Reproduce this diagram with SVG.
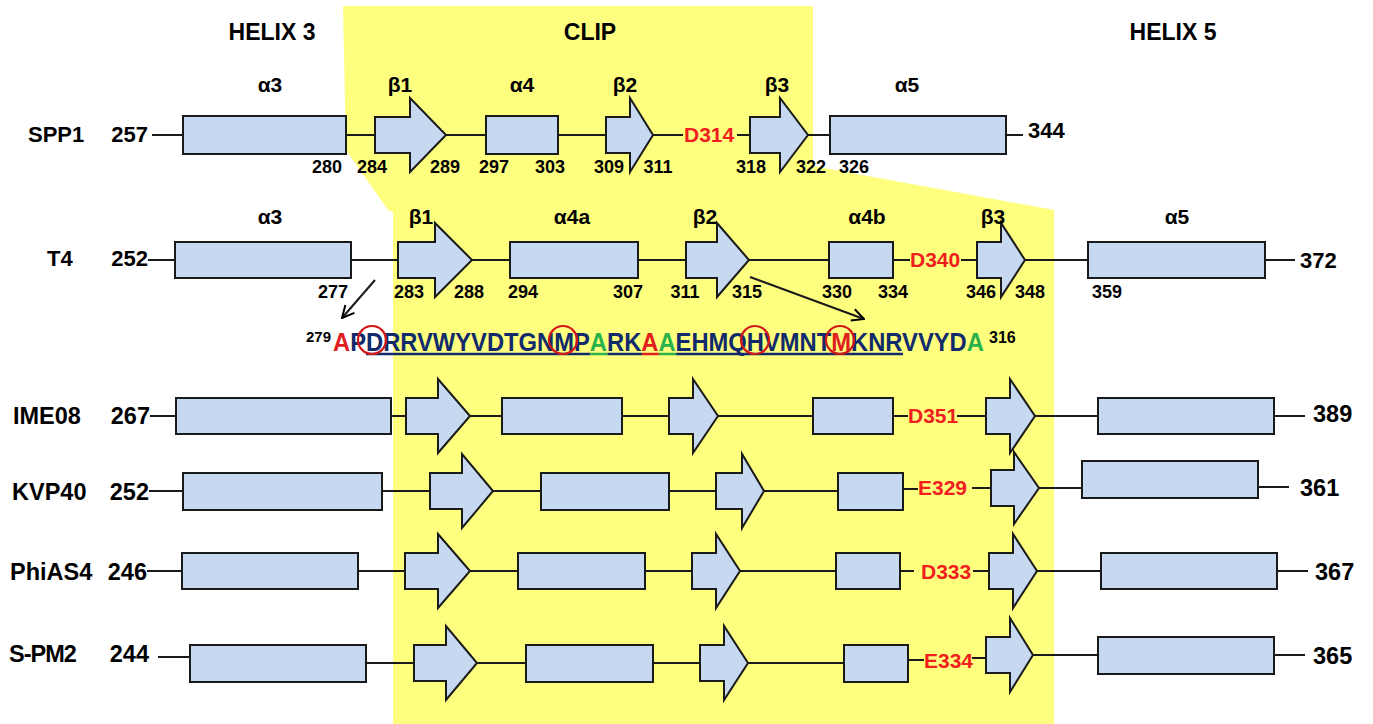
<svg xmlns="http://www.w3.org/2000/svg" width="1373" height="724" viewBox="0 0 1373 724">
<defs>
<style>
.box{fill:#c6d9f0;stroke:#1a1a1a;stroke-width:2}
.ln{stroke:#1a1a1a;stroke-width:2;fill:none}
.t{font-family:"Liberation Sans",Arial,sans-serif;font-weight:bold;fill:#000}
.ttl{font-size:23px}
.lab{font-size:22px}
.num{font-size:18px;text-anchor:middle}
.gr{font-size:21px;text-anchor:middle}
.red{fill:#f01e1e;font-size:21px}
.lab2{font-size:23.5px}
.seq{font-size:26px}
.nv{fill:#102a6c}
.rd{fill:#e0201e}
.gn{fill:#2ab24a}
.circ{fill:none;stroke:#d01818;stroke-width:2.2}
</style>
<marker id="open" viewBox="0 0 14 14" refX="13" refY="7" markerWidth="14" markerHeight="14" markerUnits="userSpaceOnUse" orient="auto">
<path d="M1,1 L13,7 L1,13" fill="none" stroke="#000" stroke-width="2"/>
</marker>
</defs>
<rect width="1373" height="724" fill="#fff"/>
<polygon id="clip-region" points="343,6 813,6 813,166 1054,210 1054,724 393,724 393,212 388,210 346,150" fill="#ffff7f"/>

<g id="titles" class="t ttl" text-anchor="middle">
<text x="272" y="40">HELIX 3</text>
<text x="590" y="40">CLIP</text>
<text x="1173" y="40">HELIX 5</text>
</g>

<g id="connectors" class="ln">
<!-- SPP1 -->
<line x1="152" y1="135" x2="183" y2="135"/><line x1="346" y1="135" x2="375" y2="135"/><line x1="446" y1="135" x2="486" y2="135"/><line x1="558" y1="135" x2="606" y2="135"/><line x1="653" y1="135" x2="683" y2="135"/><line x1="737" y1="135" x2="750" y2="135"/><line x1="808" y1="135" x2="830" y2="135"/><line x1="1006" y1="135" x2="1023" y2="135"/>
<!-- T4 -->
<line x1="148" y1="260" x2="175" y2="260"/><line x1="351" y1="260" x2="398" y2="260"/><line x1="472" y1="260" x2="510" y2="260"/><line x1="638" y1="260" x2="686" y2="260"/><line x1="749" y1="260" x2="829" y2="260"/><line x1="893" y1="260" x2="910" y2="260"/><line x1="961" y1="260" x2="977" y2="260"/><line x1="1025" y1="260" x2="1088" y2="260"/><line x1="1265" y1="260" x2="1295" y2="260"/>
<line x1="375" y1="280" x2="342" y2="318" marker-end="url(#open)"/>
<line x1="750" y1="277" x2="864" y2="319" marker-end="url(#open)"/>
<!-- IME08 -->
<line x1="150" y1="416" x2="176" y2="416"/><line x1="391" y1="416" x2="406" y2="416"/><line x1="470" y1="416" x2="502" y2="416"/><line x1="622" y1="416" x2="669" y2="416"/><line x1="718" y1="416" x2="813" y2="416"/><line x1="893" y1="416" x2="908" y2="416"/><line x1="957" y1="416" x2="986" y2="416"/><line x1="1035" y1="416" x2="1098" y2="416"/><line x1="1274" y1="416" x2="1305" y2="416"/>
<!-- KVP40 -->
<line x1="149" y1="491" x2="183" y2="491"/><line x1="382" y1="491" x2="430" y2="491"/><line x1="493" y1="491" x2="541" y2="491"/><line x1="669" y1="491" x2="716" y2="491"/><line x1="764" y1="491" x2="838" y2="491"/><line x1="903" y1="489" x2="918" y2="489"/><line x1="972" y1="488" x2="991" y2="488"/><line x1="1039" y1="488" x2="1082" y2="488"/><line x1="1258" y1="487" x2="1289" y2="487"/>
<!-- PhiAS4 -->
<line x1="147" y1="571" x2="182" y2="571"/><line x1="358" y1="571" x2="405" y2="571"/><line x1="470" y1="571" x2="518" y2="571"/><line x1="645" y1="571" x2="692" y2="571"/><line x1="740" y1="571" x2="836" y2="571"/><line x1="900" y1="571" x2="914" y2="571"/><line x1="973" y1="571" x2="989" y2="571"/><line x1="1037" y1="571" x2="1101" y2="571"/><line x1="1277" y1="571" x2="1308" y2="571"/>
<!-- S-PM2 -->
<line x1="158" y1="657" x2="190" y2="657"/><line x1="366" y1="663" x2="414" y2="663"/><line x1="477" y1="663" x2="526" y2="663"/><line x1="653" y1="663" x2="700" y2="663"/><line x1="748" y1="663" x2="844" y2="663"/><line x1="908" y1="660" x2="924" y2="660"/><line x1="972" y1="658" x2="986" y2="658"/><line x1="1033" y1="655" x2="1098" y2="655"/><line x1="1274" y1="655" x2="1305" y2="655"/>
</g>

<g id="row-SPP1">
<text class="t lab" x="28" y="142">SPP1</text>
<text class="t lab" x="148" y="142" text-anchor="end">257</text>
<g id="spp1-a3"><rect class="box" x="183" y="116" width="163" height="38"/><text class="t gr" x="270" y="92">α3</text></g>
<g id="spp1-b1"><polygon class="box" points="375,117 410,117 410,98 446,135 410,172 410,153 375,153"/><text class="t gr" x="400" y="92">β1</text></g>
<g id="spp1-a4"><rect class="box" x="486" y="116" width="72" height="38"/><text class="t gr" x="522" y="92">α4</text></g>
<g id="spp1-b2"><polygon class="box" points="606,117 630,117 630,98 653,135 630,172 630,153 606,153"/><text class="t gr" x="625" y="92">β2</text></g>
<g id="spp1-d314"><text class="t red" x="684" y="142">D314</text></g>
<g id="spp1-b3"><polygon class="box" points="750,117 780,117 780,98 808,135 780,172 780,153 750,153"/><text class="t gr" x="777" y="92">β3</text></g>
<g id="spp1-a5"><rect class="box" x="830" y="116" width="176" height="38"/><text class="t gr" x="907" y="92">α5</text></g>
<text class="t lab" x="1028" y="138">344</text>
<g class="t num"><text x="327" y="173">280</text><text x="372" y="173">284</text><text x="445" y="173">289</text><text x="494" y="173">297</text><text x="550" y="173">303</text><text x="609" y="173">309</text><text x="658" y="173">311</text><text x="751" y="173">318</text><text x="811" y="173">322</text><text x="854" y="173">326</text></g>
</g>

<g id="row-T4">
<text class="t lab" x="47" y="266">T4</text>
<text class="t lab" x="148" y="266" text-anchor="end">252</text>
<g id="t4-a3"><rect class="box" x="175" y="242" width="176" height="36"/><text class="t gr" x="270" y="224">α3</text></g>
<g id="t4-b1"><polygon class="box" points="398,242 435,242 435,223 472,260 435,297 435,278 398,278"/><text class="t gr" x="421" y="224">β1</text></g>
<g id="t4-a4a"><rect class="box" x="510" y="242" width="128" height="36"/><text class="t gr" x="572" y="224">α4a</text></g>
<g id="t4-b2"><polygon class="box" points="686,242 717,242 717,223 749,260 717,297 717,278 686,278"/><text class="t gr" x="705" y="224">β2</text></g>
<g id="t4-a4b"><rect class="box" x="829" y="242" width="64" height="36"/><text class="t gr" x="867" y="224">α4b</text></g>
<g id="t4-d340"><text class="t red" x="910" y="267">D340</text></g>
<g id="t4-b3"><polygon class="box" points="977,242 1001,242 1001,223 1025,260 1001,297 1001,278 977,278"/><text class="t gr" x="993" y="224">β3</text></g>
<g id="t4-a5"><rect class="box" x="1088" y="242" width="177" height="36"/><text class="t gr" x="1177" y="224">α5</text></g>
<text class="t lab" x="1300" y="268">372</text>
<g class="t num"><text x="333" y="298">277</text><text x="409" y="298">283</text><text x="469" y="298">288</text><text x="523" y="298">294</text><text x="628" y="298">307</text><text x="685" y="298">311</text><text x="747" y="298">315</text><text x="837" y="298">330</text><text x="893" y="298">334</text><text x="981" y="298">346</text><text x="1030" y="298">348</text><text x="1107" y="298">359</text></g>
</g>

<g id="sequence">
<text class="t" x="331" y="342" font-size="15" text-anchor="end">279</text>
<g stroke-width="2.5">
<line x1="366" y1="354" x2="590.4" y2="354" stroke="#102a6c"/>
<line x1="590.4" y1="354" x2="607.5" y2="354" stroke="#2ab24a"/>
<line x1="607.5" y1="354" x2="641.9" y2="354" stroke="#102a6c"/>
<line x1="641.9" y1="354" x2="659" y2="354" stroke="#e0201e"/>
<line x1="659" y1="354" x2="676.2" y2="354" stroke="#2ab24a"/>
<line x1="676.2" y1="354" x2="903" y2="354" stroke="#102a6c"/>
</g>
<g transform="translate(333,351) scale(0.9138,1)">
<text class="t seq" x="0" y="0"><tspan class="rd">A</tspan><tspan class="nv">PDRRVWYVDTGNMP</tspan><tspan class="gn">A</tspan><tspan class="nv">RK</tspan><tspan class="rd">A</tspan><tspan class="gn">A</tspan><tspan class="nv">EHMQHVMNT</tspan><tspan class="rd">M</tspan><tspan class="nv">KNRVVYD</tspan><tspan class="gn">A</tspan></text>
</g>
<text class="t" x="989" y="343" font-size="16">316</text>
<circle class="circ" cx="372" cy="340" r="14"/>
<circle class="circ" cx="563" cy="340" r="14"/>
<circle class="circ" cx="755" cy="340" r="14"/>
<circle class="circ" cx="840" cy="340" r="14"/>
</g>

<g id="row-IME08">
<text class="t lab2" x="13" y="424">IME08</text>
<text class="t lab2" x="150" y="424" text-anchor="end">267</text>
<g id="ime-a3"><rect class="box" x="176" y="398" width="215" height="36"/></g>
<g id="ime-b1"><polygon class="box" points="406,398 438,398 438,379 470,416 438,453 438,434 406,434"/></g>
<g id="ime-a4"><rect class="box" x="502" y="398" width="120" height="36"/></g>
<g id="ime-b2"><polygon class="box" points="669,398 693,398 693,379 718,416 693,453 693,434 669,434"/></g>
<g id="ime-a4b"><rect class="box" x="813" y="398" width="80" height="36"/></g>
<g id="ime-d351"><text class="t red" x="908" y="423">D351</text></g>
<g id="ime-b3"><polygon class="box" points="986,398 1010,398 1010,379 1035,416 1010,453 1010,434 986,434"/></g>
<g id="ime-a5"><rect class="box" x="1098" y="398" width="176" height="36"/></g>
<text class="t lab2" x="1313" y="422">389</text>
</g>

<g id="row-KVP40">
<text class="t lab2" x="12" y="500">KVP40</text>
<text class="t lab2" x="149" y="500" text-anchor="end">252</text>
<g id="kvp-a3"><rect class="box" x="183" y="473" width="199" height="37"/></g>
<g id="kvp-b1"><polygon class="box" points="430,473 462,473 462,454 493,491 462,528 462,509 430,509"/></g>
<g id="kvp-a4"><rect class="box" x="541" y="473" width="128" height="37"/></g>
<g id="kvp-b2"><polygon class="box" points="716,473 742,473 742,454 764,491 742,528 742,509 716,509"/></g>
<g id="kvp-a4b"><rect class="box" x="838" y="473" width="65" height="37"/></g>
<g id="kvp-e329"><text class="t red" x="918" y="495">E329</text></g>
<g id="kvp-b3"><polygon class="box" points="991,470 1014,470 1014,452 1039,488 1014,524 1014,506 991,506"/></g>
<g id="kvp-a5"><rect class="box" x="1082" y="461" width="176" height="37"/></g>
<text class="t lab2" x="1300" y="496">361</text>
</g>

<g id="row-PhiAS4">
<text class="t lab2" x="10" y="580">PhiAS4</text>
<text class="t lab2" x="147" y="580" text-anchor="end">246</text>
<g id="phi-a3"><rect class="box" x="182" y="553" width="176" height="36"/></g>
<g id="phi-b1"><polygon class="box" points="405,553 438,553 438,534 470,571 438,608 438,589 405,589"/></g>
<g id="phi-a4"><rect class="box" x="518" y="553" width="127" height="36"/></g>
<g id="phi-b2"><polygon class="box" points="692,553 716,553 716,534 740,571 716,608 716,589 692,589"/></g>
<g id="phi-a4b"><rect class="box" x="836" y="553" width="64" height="36"/></g>
<g id="phi-d333"><text class="t red" x="921" y="579">D333</text></g>
<g id="phi-b3"><polygon class="box" points="989,553 1013,553 1013,534 1037,571 1013,608 1013,589 989,589"/></g>
<g id="phi-a5"><rect class="box" x="1101" y="553" width="176" height="36"/></g>
<text class="t lab2" x="1315" y="580">367</text>
</g>

<g id="row-SPM2">
<text class="t lab2" x="9" y="662" letter-spacing="-1">S-PM2</text>
<text class="t lab2" x="149" y="662" text-anchor="end">244</text>
<g id="spm-a3"><rect class="box" x="190" y="645" width="176" height="37"/></g>
<g id="spm-b1"><polygon class="box" points="414,645 446,645 446,626 477,663 446,700 446,681 414,681"/></g>
<g id="spm-a4"><rect class="box" x="526" y="645" width="127" height="37"/></g>
<g id="spm-b2"><polygon class="box" points="700,645 724,645 724,626 748,663 724,700 724,681 700,681"/></g>
<g id="spm-a4b"><rect class="box" x="844" y="645" width="64" height="37"/></g>
<g id="spm-e334"><text class="t red" x="924" y="668">E334</text></g>
<g id="spm-b3"><polygon class="box" points="986,637 1010,637 1010,618 1033,655 1010,692 1010,673 986,673"/></g>
<g id="spm-a5"><rect class="box" x="1098" y="637" width="176" height="37"/></g>
<text class="t lab2" x="1313" y="664">365</text>
</g>
</svg>
